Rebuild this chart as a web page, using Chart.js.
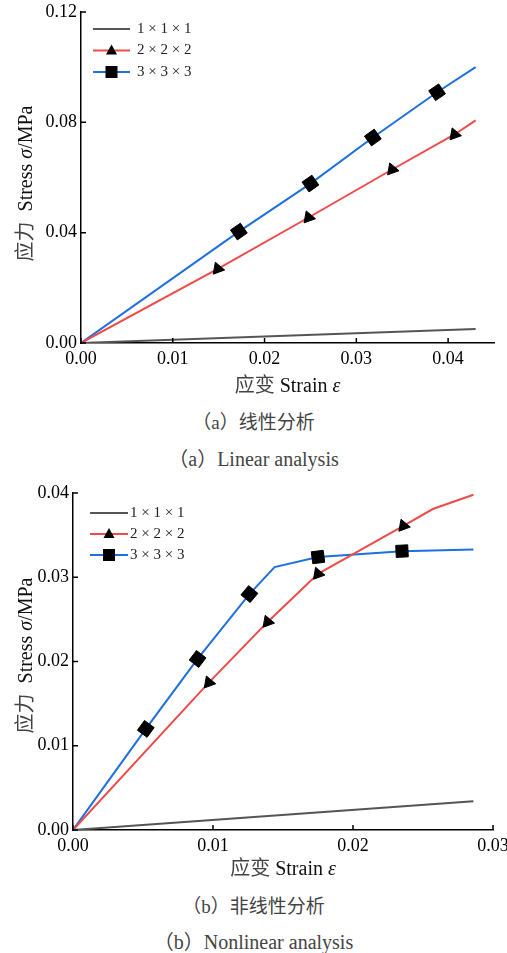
<!DOCTYPE html>
<html lang="zh">
<head>
<meta charset="UTF-8">
<title>应力-应变曲线</title>
<script src="https://cdn.jsdelivr.net/npm/chart.js"></script>
<style>
  body { margin: 0; background: #fff; width: 507px; height: 953px; position: relative; overflow: hidden;
         font-family: "Liberation Serif", "Noto Sans CJK SC", serif; }
  canvas { position: absolute; left: 0; }
  #chartA { top: 0; }
  #chartB { top: 470px; }
  .cap { position: absolute; left: 0; width: 507px; text-align: center; font-size: 19px; line-height: 24px; color: #444; }
  .cap.en { font-size: 20px; }
</style>
</head>
<body>
<canvas id="chartA" width="507" height="400"></canvas>
<div class="cap" style="top:411px">（a）线性分析</div>
<div class="cap en" style="top:447px">（a）Linear analysis</div>
<canvas id="chartB" width="507" height="420"></canvas>
<div class="cap" style="top:895px">（b）非线性分析</div>
<div class="cap en" style="top:930px">（b）Nonlinear analysis</div>

<script>
// series names
const seriesNames = ['1 × 1 × 1', '2 × 2 × 2', '3 × 3 × 3'];

// (a) linear analysis
const strainA1 = [0, 0.0430];
const stressA1 = [0, 0.0051];
const strainA2 = [0, 0.0149, 0.0248, 0.0339, 0.0407, 0.0430];
const stressA2 = [0, 0.0269, 0.0455, 0.0629, 0.0756, 0.0807];
const markA2   = [0, 1, 1, 1, 1, 0];
const strainA3 = [0, 0.0172, 0.0250, 0.0318, 0.0388, 0.0430];
const stressA3 = [0, 0.0404, 0.0578, 0.0745, 0.0909, 0.1000];
const markA3   = [0, 1, 1, 1, 1, 0];
const xTicksA = [0, 0.01, 0.02, 0.03, 0.04];
const yTicksA = [0, 0.04, 0.08, 0.12];

// (b) nonlinear analysis
const strainB1 = [0, 0.0286];
const stressB1 = [0, 0.0034];
const strainB2 = [0, 0.0097, 0.0139, 0.0175, 0.0236, 0.0257, 0.0286];
const stressB2 = [0, 0.0175, 0.0247, 0.0304, 0.0361, 0.0381, 0.0398];
const markB2   = [0, 1, 1, 1, 1, 0, 0];
const strainB3 = [0, 0.0052, 0.0089, 0.0126, 0.0144, 0.0175, 0.0235, 0.0286];
const stressB3 = [0, 0.0120, 0.0203, 0.0280, 0.0312, 0.0324, 0.0331, 0.0333];
const markB3   = [0, 1, 1, 1, 0, 1, 1, 0];
const xTicksB = [0, 0.01, 0.02, 0.03];
const yTicksB = [0, 0.01, 0.02, 0.03, 0.04];

const SERIF = '"Liberation Serif", "Noto Sans CJK SC", serif';
const lineColors = ['#555555', '#f04a4a', '#1e6fe0'];

function pairs(xs, ys) {
  return xs.map((x, i) => ({ x: x, y: ys[i] }));
}

// marker angle follows the local direction of the curve on screen
function tangent(ctx) {
  if (ctx.type !== 'data') return 0;
  const pts = ctx.dataset.data, i = ctx.dataIndex;
  const p = pts[Math.max(i - 1, 0)], q = pts[Math.min(i + 1, pts.length - 1)];
  const sx = ctx.chart.scales.x, sy = ctx.chart.scales.y;
  const dx = sx.getPixelForValue(q.x) - sx.getPixelForValue(p.x);
  const dy = sy.getPixelForValue(q.y) - sy.getPixelForValue(p.y);
  return Math.atan2(dy, dx) * 180 / Math.PI;
}

function makeDatasets(s1, s2, s3, m2, m3) {
  return [
    { label: seriesNames[0], data: s1, borderColor: lineColors[0], borderWidth: 2,
      pointRadius: 0, marker: null },
    { label: seriesNames[1], data: s2, borderColor: lineColors[1], borderWidth: 2,
      pointStyle: 'triangle', pointRotation: 100,
      pointRadius: c => m2[c.dataIndex] ? 7 : 0,
      pointBackgroundColor: '#000', pointBorderColor: '#000', pointBorderWidth: 1, marker: 'triangle' },
    { label: seriesNames[2], data: s3, borderColor: lineColors[2], borderWidth: 2,
      pointStyle: 'rect', pointRotation: tangent,
      pointRadius: c => m3[c.dataIndex] ? 8.5 : 0,
      pointBackgroundColor: '#000', pointBorderColor: '#000', pointBorderWidth: 1, marker: 'rect' }
  ];
}

// draws a row of text pieces in different fonts, centred on x
function drawRuns(ctx, runs, x, y) {
  let total = 0;
  runs.forEach(r => { ctx.font = r.font; total += ctx.measureText(r.text).width; });
  let cx = x - total / 2;
  runs.forEach(r => {
    ctx.font = r.font;
    ctx.fillStyle = r.color || '#111';
    ctx.fillText(r.text, cx, y);
    cx += ctx.measureText(r.text).width;
  });
}

const xTitle = [
  { text: '应变', font: '20px ' + SERIF, color: '#444' },
  { text: ' Strain ', font: '20px ' + SERIF },
  { text: 'ε', font: 'italic 20px ' + SERIF }
];
const yTitle = [
  { text: '应力', font: '20px ' + SERIF, color: '#444' },
  { text: '  Stress ', font: '20px ' + SERIF },
  { text: 'σ', font: 'italic 20px ' + SERIF },
  { text: '/MPa', font: '20px ' + SERIF }
];

function drawMarker(ctx, kind, x, y) {
  ctx.beginPath();
  if (kind === 'triangle') {
    ctx.moveTo(x, y - 6);
    ctx.lineTo(x + 5.5, y + 4);
    ctx.lineTo(x - 5.5, y + 4);
    ctx.closePath();
  } else {
    ctx.rect(x - 6, y - 6, 12, 12);
  }
  ctx.fillStyle = '#000';
  ctx.fill();
}

// inward ticks, axis titles and the key in the upper left corner
const plotDecor = {
  id: 'plotDecor',
  afterDraw(chart, args, o) {
    const { ctx, chartArea: a } = chart;
    const sx = chart.scales.x, sy = chart.scales.y;
    ctx.save();
    ctx.strokeStyle = '#000';
    ctx.lineWidth = 1.5;
    ctx.beginPath();
    sx.ticks.forEach(t => {
      const px = sx.getPixelForValue(t.value);
      ctx.moveTo(px, a.bottom); ctx.lineTo(px, a.bottom - 5);
    });
    sy.ticks.forEach(t => {
      const py = sy.getPixelForValue(t.value);
      ctx.moveTo(a.left, py); ctx.lineTo(a.left + 5, py);
    });
    ctx.stroke();

    ctx.textBaseline = 'middle';
    drawRuns(ctx, xTitle, (a.left + a.right) / 2, a.bottom + o.xTitleGap);
    ctx.save();
    ctx.translate(o.yTitleX, (a.top + a.bottom) / 2 + o.yTitleShift);
    ctx.rotate(-Math.PI / 2);
    drawRuns(ctx, yTitle, 0, 0);
    ctx.restore();

    chart.data.datasets.forEach((ds, i) => {
      const y = a.top + o.keyTop + i * o.keyStep;
      const x0 = a.left + o.keyLeft, x1 = x0 + o.keyLen;
      ctx.strokeStyle = ds.borderColor;
      ctx.lineWidth = 2;
      ctx.beginPath();
      ctx.moveTo(x0, y); ctx.lineTo(x1, y);
      ctx.stroke();
      if (ds.marker) drawMarker(ctx, ds.marker, (x0 + x1) / 2, y);
      ctx.font = '15px ' + SERIF;
      ctx.fillStyle = '#222';
      ctx.textAlign = 'left';
      ctx.fillText(ds.label, x1 + o.keyGap, y);
    });
    ctx.restore();
  }
};

function makeChart(id, datasets, cfg) {
  const tickFont = { family: SERIF, size: 18 };
  return new Chart(document.getElementById(id), {
    type: 'line',
    data: { datasets: datasets },
    plugins: [plotDecor],
    options: {
      responsive: false,
      animation: false,
      layout: { padding: { top: cfg.padTop, right: cfg.padRight, left: 0, bottom: 0 } },
      plugins: {
        legend: { display: false },
        tooltip: { enabled: false },
        plotDecor: cfg.decor
      },
      elements: { line: { tension: 0 } },
      scales: {
        x: {
          type: 'linear', min: 0, max: cfg.xMax,
          afterBuildTicks: s => { s.ticks = cfg.xTicks.map(v => ({ value: v })); },
          afterFit: s => { s.height = cfg.xHeight; s.paddingLeft = 0; s.paddingRight = 0; },
          grid: { display: false, drawTicks: false },
          border: { color: '#000', width: 1.5 },
          ticks: { color: '#000', font: tickFont, padding: 5, maxRotation: 0,
                   callback: v => v.toFixed(2) }
        },
        y: {
          type: 'linear', min: 0, max: cfg.yMax,
          afterBuildTicks: s => { s.ticks = cfg.yTicks.map(v => ({ value: v })); },
          afterFit: s => { s.width = cfg.yWidth; s.paddingTop = 0; s.paddingBottom = 0; },
          grid: { display: false, drawTicks: false },
          border: { color: '#000', width: 1.5 },
          ticks: { color: '#000', font: tickFont, padding: 4,
                   callback: v => v.toFixed(2) }
        }
      }
    }
  });
}

makeChart('chartA',
  makeDatasets(pairs(strainA1, stressA1), pairs(strainA2, stressA2), pairs(strainA3, stressA3), markA2, markA3),
  { padTop: 12, padRight: 13, xMax: 0.045, yMax: 0.12, xTicks: xTicksA, yTicks: yTicksA,
    xHeight: 57, yWidth: 81,
    decor: { xTitleGap: 44, yTitleX: 27, yTitleShift: 6, keyTop: 17, keyStep: 21.5, keyLeft: 12, keyLen: 37, keyGap: 7 } });

makeChart('chartB',
  makeDatasets(pairs(strainB1, stressB1), pairs(strainB2, stressB2), pairs(strainB3, stressB3), markB2, markB3),
  { padTop: 23, padRight: 14, xMax: 0.03, yMax: 0.04, xTicks: xTicksB, yTicks: yTicksB,
    xHeight: 60, yWidth: 73,
    decor: { xTitleGap: 40, yTitleX: 27, yTitleShift: -6, keyTop: 20, keyStep: 21, keyLeft: 17, keyLen: 38, keyGap: 2 } });
</script>
</body>
</html>
